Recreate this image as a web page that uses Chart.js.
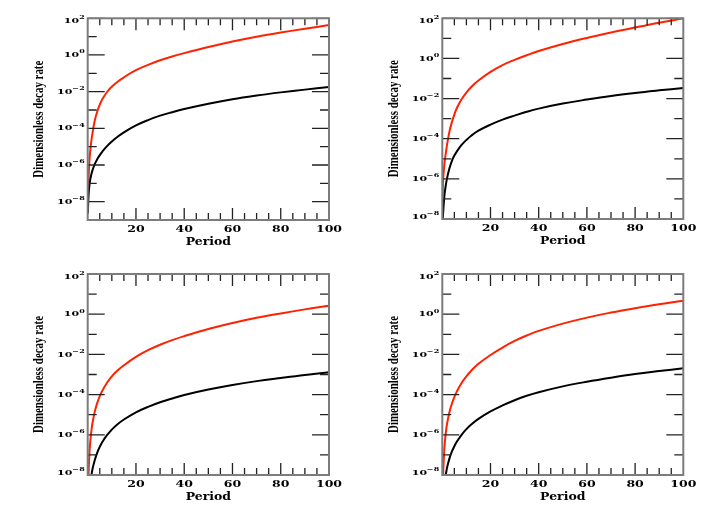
<!DOCTYPE html>
<html><head><meta charset="utf-8">
<script src="https://cdn.jsdelivr.net/npm/chart.js@4.4.0/dist/chart.umd.min.js"></script>
<style>
html,body{margin:0;padding:0;background:#fff;}
#wrap{position:relative;width:710px;height:512px;overflow:hidden;background:#fff;}
canvas{position:absolute;left:0;top:0;}
</style>
</head><body>
<div id="wrap">
<canvas id="c1" width="710" height="512"></canvas>
<canvas id="c2" width="710" height="512"></canvas>
<canvas id="c3" width="710" height="512"></canvas>
<canvas id="c4" width="710" height="512"></canvas>
</div>
<script>
// ---- data (y given as log10 of the decay rate) ----
const periods = [0.1, 0.2, 0.4, 0.7, 1, 1.5, 2, 3, 4, 5, 6, 8, 10, 12, 15, 20, 25, 30, 35, 40, 50, 60, 70, 80, 90, 100];
const xTickLabels = [20, 40, 60, 80, 100];
const yTickExponents = [-8, -6, -4, -2, 0, 2];
const xTitle = 'Period';
const yTitle = 'Dimensionless decay rate';

const panel1RedLog   = [-7.5, -7.25, -6.6, -5.8, -5.3, -4.7, -4.25, -3.53, -3.07, -2.71, -2.43, -2.02, -1.73, -1.50, -1.22, -0.83, -0.54, -0.29, -0.08, 0.10, 0.43, 0.73, 0.99, 1.22, 1.43, 1.63];
const panel1BlackLog = [-8.64, -8.1, -7.56, -7.12, -6.84, -6.52, -6.28, -5.93, -5.67, -5.46, -5.28, -4.97, -4.72, -4.50, -4.22, -3.84, -3.55, -3.31, -3.12, -2.95, -2.66, -2.41, -2.21, -2.04, -1.89, -1.75];
const panel2RedLog   = [-6.85, -6.45, -5.95, -5.5, -5.12, -4.68, -4.28, -3.62, -3.17, -2.8, -2.48, -2.03, -1.7, -1.42, -1.1, -0.67, -0.33, -0.07, 0.16, 0.37, 0.72, 1.02, 1.29, 1.54, 1.78, 2.0];
const panel2BlackLog = [-8.3, -8.0, -7.6, -7.1, -6.7, -6.28, -5.95, -5.46, -5.1, -4.84, -4.64, -4.31, -4.06, -3.85, -3.6, -3.3, -3.05, -2.85, -2.66, -2.5, -2.25, -2.05, -1.87, -1.72, -1.59, -1.47];
const panel3RedLog   = [-9.8, -8.81, -7.79, -6.96, -6.43, -5.83, -5.4, -4.81, -4.4, -4.08, -3.82, -3.41, -3.09, -2.84, -2.54, -2.12, -1.79, -1.52, -1.29, -1.09, -0.74, -0.44, -0.18, 0.04, 0.24, 0.42];
const panel3BlackLog = [-11.2, -10.4, -9.6, -8.9, -8.45, -8.05, -7.7, -7.23, -6.87, -6.6, -6.37, -6.02, -5.74, -5.51, -5.24, -4.88, -4.61, -4.38, -4.19, -4.02, -3.75, -3.52, -3.33, -3.17, -3.02, -2.89];
const panel4RedLog   = [-9.8, -8.8, -7.8, -7.0, -6.45, -5.85, -5.43, -4.85, -4.44, -4.12, -3.85, -3.42, -3.09, -2.81, -2.47, -2.03, -1.66, -1.33, -1.06, -0.83, -0.47, -0.17, 0.08, 0.30, 0.50, 0.67];
const panel4BlackLog = [-11.0, -10.3, -9.5, -8.8, -8.3, -7.95, -7.62, -7.16, -6.83, -6.57, -6.35, -6.0, -5.72, -5.49, -5.21, -4.84, -4.54, -4.28, -4.06, -3.88, -3.59, -3.36, -3.16, -2.98, -2.83, -2.69];

const panels = [
  {id:'c1', red:panel1RedLog, black:panel1BlackLog, yMinExp:-9, area:{l:87.7, r:329, t:18.3, b:220}},
  {id:'c2', red:panel2RedLog, black:panel2BlackLog, yMinExp:-8, area:{l:442.3, r:683.3, t:18.3, b:219}},
  {id:'c3', red:panel3RedLog, black:panel3BlackLog, yMinExp:-8, area:{l:87.7, r:329, t:274, b:475}},
  {id:'c4', red:panel4RedLog, black:panel4BlackLog, yMinExp:-8, area:{l:442.3, r:683.3, t:274, b:475}}
];

const SQ = 0.74; // vertical squash of the lettering seen in the reference

function squashText(ctx, text, x, y, font, align, sx, sy) {
  ctx.save();
  ctx.translate(x, y);
  ctx.scale(sx, sy);
  ctx.font = font;
  ctx.textAlign = align;
  ctx.textBaseline = 'middle';
  ctx.fillText(text, 0, 0);
  ctx.restore();
}

const frameTicks = {
  id: 'frameTicks',
  afterDraw(chart, args, opts) {
    const ctx = chart.ctx;
    const a = chart.chartArea;
    const xs = chart.scales.x, ys = chart.scales.y;
    ctx.save();
    // inward ticks on all four sides
    ctx.strokeStyle = '#222';
    ctx.lineWidth = 1.3;
    ctx.beginPath();
    for (let e = opts.yMinExp; e <= 2; e++) {
      const y = ys.getPixelForValue(Math.pow(10, e));
      const len = (e % 2 === 0) ? 17 : 9;
      ctx.moveTo(a.left, y); ctx.lineTo(a.left + len, y);
      ctx.moveTo(a.right, y); ctx.lineTo(a.right - len, y);
    }
    for (let v = 5; v < 100; v += 5) {
      const x = xs.getPixelForValue(v);
      const len = (v % 20 === 0) ? 12 : 7;
      ctx.moveTo(x, a.bottom); ctx.lineTo(x, a.bottom - len);
      ctx.moveTo(x, a.top); ctx.lineTo(x, a.top + len);
    }
    ctx.stroke();
    // frame
    ctx.strokeStyle = '#7c7c7c';
    ctx.lineWidth = 2;
    ctx.strokeRect(a.left, a.top, a.right - a.left, a.bottom - a.top);

    ctx.fillStyle = '#000';
    // y tick labels 10^e
    const baseFont = 'bold 11px "DejaVu Serif"';
    const supFont = 'bold 8px "DejaVu Serif"';
    yTickExponents.forEach(e => {
      let y = ys.getPixelForValue(Math.pow(10, e));
      if (y - a.top < 3) y += 2.5;
      if (a.bottom - y < 3) y -= 2.5;
      const sup = e < 0 ? '\u2212' + Math.abs(e) : String(e);
      ctx.font = baseFont; const w1 = ctx.measureText('10').width;
      ctx.font = supFont; const w2 = ctx.measureText(sup).width;
      const xr = a.left - 3;
      squashText(ctx, '10', xr - w2 - w1, y, baseFont, 'left', 1, SQ);
      squashText(ctx, sup, xr - w2, y - 3.2, supFont, 'left', 1, SQ);
    });
    // x tick labels
    xTickLabels.forEach(v => {
      const x = xs.getPixelForValue(v);
      squashText(ctx, String(v), x, a.bottom + 10, 'bold 12.5px "DejaVu Serif"', 'center', 1, SQ);
    });
    // x title
    squashText(ctx, xTitle, (a.left + a.right) / 2, a.bottom + 22, 'bold 12.5px "DejaVu Serif"', 'center', 1, 0.82);
    // y title (rotated, compressed along its length)
    ctx.save();
    ctx.translate(a.left - 48, (a.top + a.bottom) / 2);
    ctx.rotate(-Math.PI / 2);
    ctx.font = 'bold 14px "Liberation Serif"';
    const tw = ctx.measureText(yTitle).width;
    ctx.scale(117 / tw, 1);
    ctx.textAlign = 'center';
    ctx.textBaseline = 'middle';
    ctx.fillText(yTitle, 0, 0);
    ctx.restore();
    ctx.restore();
  }
};

panels.forEach(p => {
  const toPts = arr => periods.map((x, i) => ({x: x, y: Math.pow(10, arr[i])}));
  new Chart(document.getElementById(p.id), {
    type: 'line',
    data: {
      datasets: [
        {data: toPts(p.black), borderColor: '#000000', borderWidth: 2, pointRadius: 0, tension: 0.4, fill: false},
        {data: toPts(p.red), borderColor: '#ff2200', borderWidth: 2, pointRadius: 0, tension: 0.4, fill: false}
      ]
    },
    options: {
      responsive: false,
      animation: false,
      devicePixelRatio: 1,
      layout: {padding: {left: p.area.l, right: 710 - p.area.r, top: p.area.t, bottom: 512 - p.area.b}},
      plugins: {legend: {display: false}, tooltip: {enabled: false}, frameTicks: {yMinExp: p.yMinExp}},
      scales: {
        x: {type: 'linear', min: 0, max: 100, display: false},
        y: {type: 'logarithmic', min: Math.pow(10, p.yMinExp), max: 100, display: false}
      }
    },
    plugins: [frameTicks]
  });
});
</script>
</body></html>
